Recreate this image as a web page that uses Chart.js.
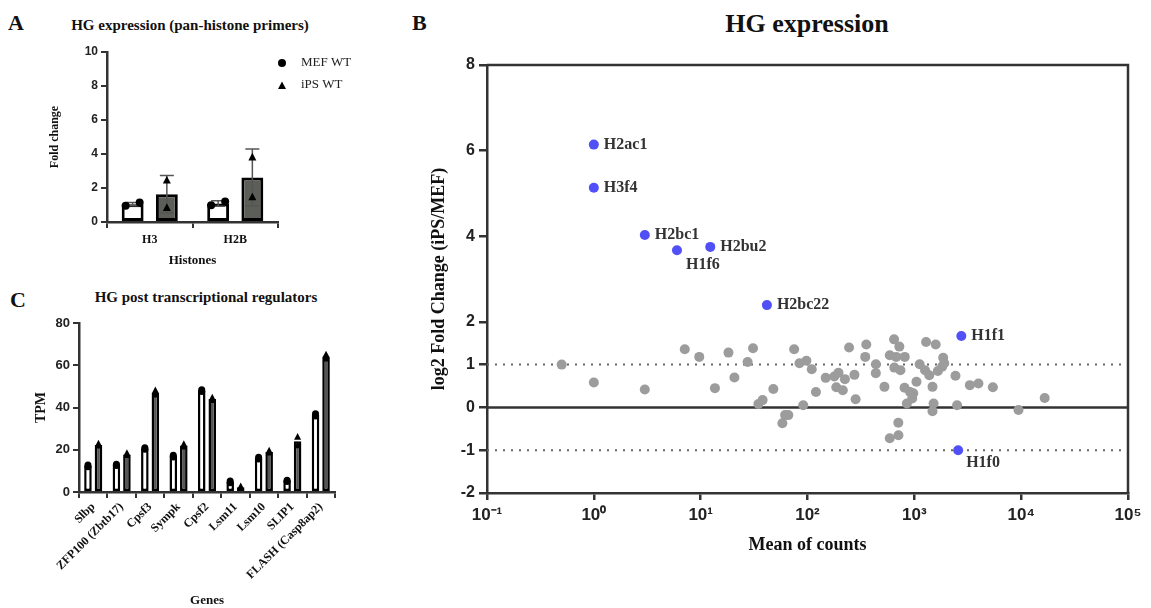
<!DOCTYPE html>
<html>
<head>
<meta charset="utf-8">
<script src="https://cdn.jsdelivr.net/npm/chart.js@4.4.1/dist/chart.umd.min.js"></script>
<style>
html, body { margin: 0; padding: 0; background: #fff; }
body { width: 1151px; height: 608px; position: relative; overflow: hidden; }
canvas { position: absolute; }
.txt { position: absolute; font-family: "Liberation Serif", "Times New Roman", serif; font-weight: bold; color: #111; white-space: nowrap; line-height: 1; }
</style>
</head>
<body>
<div class="txt" style="left:8px;top:12px;font-size:22px">A</div>
<div class="txt" style="left:40px;width:300px;top:18px;font-size:15px;text-align:center">HG expression (pan-histone primers)</div>
<div class="txt" style="left:412px;top:12px;font-size:22px">B</div>
<div class="txt" style="left:607px;width:400px;top:11px;font-size:26px;text-align:center">HG expression</div>
<div class="txt" style="left:10px;top:289px;font-size:22px">C</div>
<div class="txt" style="left:56px;width:300px;top:290px;font-size:15px;text-align:center">HG post transcriptional regulators</div>

<canvas id="chartA" width="390" height="275" style="left:0;top:0"></canvas>
<canvas id="chartB" width="751" height="608" style="left:400px;top:0"></canvas>
<canvas id="chartC" width="390" height="328" style="left:0;top:280px"></canvas>

<script>
// ---------- Panel A: pan-histone qPCR ----------
var histones = ['H3', 'H2B'];
var mefFold = [1.05, 1.09];
var ipsFold = [1.63, 2.62];
var mefFoldSd = [0.09, 0.16];
var ipsFoldSd = [1.1, 1.68];
var mefFoldReps = [[0.95, 1.15], [0.98, 1.21]];
var ipsFoldReps = [[2.44, 0.83], [3.8, 1.45]];

// ---------- Panel B: MA plot ----------
var geneCounts = [0.5, 1.0, 3.0, 7.1, 9.7, 18.2, 13.6, 20.7, 27.5, 30.9,
    34.7, 38, 47.9, 58.2, 61.7, 66.1, 75, 84.1, 97.7, 109.6,
    91.2, 120, 148, 178, 195, 224, 186, 214, 245, 275,
    282, 347, 355, 437, 436, 525, 589, 646, 724, 676,
    813, 650, 741, 810, 912, 977, 851, 955, 1047, 708,
    710, 589, 1122, 1288, 1585, 1259, 1380, 1479, 1660, 1862,
    1905, 1820, 1514, 1479, 2427, 2512, 3311, 3981, 5433, 9441, 16600];
var geneLfc = [1.0, 0.58, 0.42, 1.36, 1.18, 1.28, 0.45, 0.70, 1.06, 1.38,
    0.08, 0.17, 0.43, -0.37, -0.18, -0.18, 1.36, 1.03, 1.09, 0.89,
    0.05, 0.36, 0.69, 0.72, 0.81, 0.66, 0.47, 0.40, 1.40, 0.76,
    0.19, 1.18, 1.47, 1.01, 0.80, 0.48, 1.22, 1.59, 1.42, 1.18,
    1.18, 0.93, 0.87, 0.46, 0.36, 0.33, 0.09, 0.21, 0.60, -0.36,
    -0.65, -0.72, 1.01, 1.53, 1.47, 0.87, 0.75, 0.48, 0.85, 1.16,
    1.03, 0.95, 0.09, -0.09, 0.74, 0.05, 0.52, 0.56, 0.47, -0.06, 0.22];
var hitNames = ['H2ac1', 'H3f4', 'H2bc1', 'H1f6', 'H2bu2', 'H2bc22', 'H1f1', 'H1f0'];
var hitCounts = [1.0, 1.0, 3.0, 6.0, 12.3, 41.7, 2754, 2570];
var hitLfc = [6.14, 5.13, 4.03, 3.67, 3.75, 2.39, 1.67, -1.0];
var countTicks = [0.1, 1, 10, 100, 1000, 10000, 100000];
var countTickLabels = ['10⁻¹', '10⁰', '10¹', '10²', '10³', '10⁴', '10⁵'];
var lfcTicks = [-2, -1, 0, 1, 2, 4, 6, 8];

// ---------- Panel C: post-transcriptional regulators ----------
var regGenes = ['Slbp', 'ZFP100 (Zbtb17)', 'Cpsf3', 'Sympk', 'Cpsf2', 'Lsm11', 'Lsm10', 'SLIP1', 'FLASH (Casp8ap2)'];
var mefTpm = [12.4, 12.8, 20.6, 17.0, 48.0, 4.8, 16.0, 5.3, 36.5];
var ipsTpm = [22.3, 17.8, 47.0, 22.0, 44.0, 2.3, 19.0, 24.0, 64.0];
var mefTpmReps = [[12.0, 12.8], [12.5, 13.1], [20.2, 21.0], [16.6, 17.4], [47.6, 48.4], [4.4, 5.2], [15.6, 16.4], [5.0, 5.6], [36.0, 37.0]];
var ipsTpmReps = [[21.8, 22.8], [17.3, 18.3], [46.0, 48.0], [21.4, 22.6], [43.4, 44.6], [2.0, 2.6], [18.5, 19.5], [22.0, 26.0], [63.0, 65.0]];


var SANS = "'Liberation Sans', Arial, sans-serif";
var SERIF = "'Liberation Serif', 'Times New Roman', serif";
var AXIS = '#333';

function marker(ctx, shape, x, y, r) {
    ctx.beginPath();
    if (shape === 'triangle') {
        ctx.moveTo(x, y - r * 1.15);
        ctx.lineTo(x + r, y + r * 0.75);
        ctx.lineTo(x - r, y + r * 0.75);
        ctx.closePath();
    } else {
        ctx.arc(x, y, r, 0, Math.PI * 2);
    }
    ctx.fill();
}

// replicate dots + error bars on top of the bars
function replicatePlugin(groups) {
    return {
        id: 'replicates',
        afterDatasetsDraw: function (chart) {
            var ctx = chart.ctx, ys = chart.scales.y;
            ctx.save();
            groups.forEach(function (g) {
                var meta = chart.getDatasetMeta(g.dataset);
                meta.data.forEach(function (bar, i) {
                    if (g.sd) {
                        var mean = g.mean[i];
                        var top = ys.getPixelForValue(mean + g.sd[i]);
                        var bot = ys.getPixelForValue(mean - g.sd[i]);
                        ctx.strokeStyle = '#555';
                        ctx.lineWidth = 1.5;
                        ctx.beginPath();
                        ctx.moveTo(bar.x, top); ctx.lineTo(bar.x, bot);
                        ctx.moveTo(bar.x - 7, top); ctx.lineTo(bar.x + 7, top);
                        ctx.moveTo(bar.x - 7, bot); ctx.lineTo(bar.x + 7, bot);
                        ctx.stroke();
                    }
                    ctx.fillStyle = '#000';
                    g.reps[i].forEach(function (v, k) {
                        var dx = g.jitter ? g.jitter[k] : 0;
                        marker(ctx, g.shape, bar.x + dx, ys.getPixelForValue(v), g.r);
                    });
                });
            });
            ctx.restore();
        }
    };
}

function yAxis(min, max, step, width, title, titlePad, tickSize) {
    return {
        min: min, max: max,
        ticks: { stepSize: step, color: '#222', padding: 3, font: { family: SANS, weight: 'bold', size: tickSize } },
        grid: { drawOnChartArea: false, color: AXIS, lineWidth: 2, tickLength: 6 },
        border: { color: AXIS, width: 2.5 },
        title: { display: true, text: title, color: '#111', padding: { top: titlePad }, font: { family: SERIF, weight: 'bold', size: 12 } },
        afterFit: function (s) { s.width = width; }
    };
}


// ---------- Panel A ----------
var legendA = {
    id: 'legendA',
    afterDraw: function (chart) {
        var ctx = chart.ctx;
        ctx.save();
        ctx.fillStyle = '#000';
        marker(ctx, 'circle', 282, 63, 4);
        marker(ctx, 'triangle', 282, 86, 4);
        ctx.fillStyle = '#222';
        ctx.font = '13px ' + SERIF;
        ctx.textBaseline = 'middle';
        ctx.fillText('MEF WT', 301, 63);
        ctx.fillText('iPS WT', 301, 85);
        ctx.restore();
    }
};

new Chart(document.getElementById('chartA'), {
    type: 'bar',
    data: {
        labels: histones,
        datasets: [{
            label: 'MEF WT',
            data: mefFold,
            backgroundColor: '#fff',
            borderColor: '#000',
            borderWidth: 3,
            borderSkipped: false
        }, {
            label: 'iPS WT',
            data: ipsFold,
            backgroundColor: '#5c5e58',
            borderColor: '#000',
            borderWidth: 3,
            borderSkipped: false
        }]
    },
    options: {
        responsive: false,
        animation: false,
        events: [],
        layout: { padding: { top: 52, right: 112, left: 0, bottom: 0 } },
        datasets: { bar: { categoryPercentage: 0.8, barPercentage: 0.64 } },
        plugins: { legend: { display: false }, tooltip: { enabled: false } },
        scales: {
            x: {
                ticks: { color: '#111', padding: 5, font: { family: SERIF, weight: 'bold', size: 12 } },
                grid: { drawOnChartArea: false, color: AXIS, lineWidth: 2, tickLength: 6 },
                border: { color: AXIS, width: 2.5 },
                title: { display: true, text: 'Histones', color: '#111', padding: { bottom: 7 }, font: { family: SERIF, weight: 'bold', size: 13 } },
                afterFit: function (s) { s.height = 53; }
            },
            y: yAxis(0, 10, 2, 107, 'Fold change', 48, 12)
        }
    },
    plugins: [replicatePlugin([
        { dataset: 0, mean: mefFold, sd: mefFoldSd, reps: mefFoldReps, shape: 'circle', r: 4, jitter: [-7, 7] },
        { dataset: 1, mean: ipsFold, sd: ipsFoldSd, reps: ipsFoldReps, shape: 'triangle', r: 4 }
    ]), legendA]
});


// ---------- Panel B ----------
var genePts = geneCounts.map(function (c, i) { return { x: c, y: geneLfc[i] }; });
var hitPts = hitCounts.map(function (c, i) { return { x: c, y: hitLfc[i] }; });
function hLine(y) { return [{ x: countTicks[0], y: y }, { x: countTicks[countTicks.length - 1], y: y }]; }

var hitLabelOffset = { 'H1f6': [9, 15], 'H1f0': [8, 13] };

var boxAndLabels = {
    id: 'boxAndLabels',
    afterDatasetsDraw: function (chart) {
        var ctx = chart.ctx, a = chart.chartArea;
        ctx.save();
        // top / right frame
        ctx.strokeStyle = AXIS;
        ctx.lineWidth = 2.5;
        ctx.beginPath();
        ctx.moveTo(a.left, a.top);
        ctx.lineTo(a.right, a.top);
        ctx.lineTo(a.right, a.bottom);
        ctx.stroke();
        // hit gene names
        ctx.fillStyle = '#333';
        ctx.font = 'bold 16px ' + SERIF;
        ctx.textBaseline = 'middle';
        chart.getDatasetMeta(0).data.forEach(function (pt, i) {
            var off = hitLabelOffset[hitNames[i]] || [10, 0];
            ctx.fillText(hitNames[i], pt.x + off[0], pt.y + off[1]);
        });
        ctx.restore();
    }
};

new Chart(document.getElementById('chartB'), {
    type: 'scatter',
    data: {
        datasets: [{
            label: 'hits',
            data: hitPts,
            backgroundColor: '#5050f6',
            pointRadius: 5,
            borderWidth: 0
        }, {
            label: 'genes',
            data: genePts,
            backgroundColor: '#9c9c9c',
            pointRadius: 5,
            borderWidth: 0
        }, {
            label: 'zero',
            data: hLine(0),
            showLine: true,
            borderColor: AXIS,
            borderWidth: 2.5,
            pointRadius: 0
        }, {
            label: 'up',
            data: hLine(1),
            showLine: true,
            borderColor: '#666',
            borderWidth: 2,
            borderDash: [2, 6],
            pointRadius: 0
        }, {
            label: 'down',
            data: hLine(-1),
            showLine: true,
            borderColor: '#666',
            borderWidth: 2,
            borderDash: [2, 6],
            pointRadius: 0
        }]
    },
    options: {
        responsive: false,
        animation: false,
        events: [],
        layout: { padding: { top: 65, right: 23, left: 0, bottom: 0 } },
        plugins: { legend: { display: false }, tooltip: { enabled: false } },
        scales: {
            x: {
                type: 'logarithmic',
                min: 0.1, max: 100000,
                afterBuildTicks: function (s) { s.ticks = countTicks.map(function (v) { return { value: v, major: true }; }); },
                ticks: {
                    autoSkip: false, maxRotation: 0, color: '#222', padding: 5,
                    font: { family: SANS, weight: 'bold', size: 17 },
                    callback: function (v) { return countTickLabels[countTicks.indexOf(v)]; }
                },
                grid: { drawOnChartArea: false, color: AXIS, lineWidth: 2.5, tickLength: 7 },
                border: { color: AXIS, width: 2.5 },
                title: { display: true, text: 'Mean of counts', color: '#111', padding: { bottom: 52 }, font: { family: SERIF, weight: 'bold', size: 18 } },
                afterFit: function (s) { s.height = 115; }
            },
            y: {
                min: -2, max: 8,
                afterBuildTicks: function (s) { s.ticks = lfcTicks.map(function (v) { return { value: v }; }); },
                ticks: { autoSkip: false, color: '#222', padding: 4, font: { family: SANS, weight: 'bold', size: 16 } },
                grid: { drawOnChartArea: false, color: AXIS, lineWidth: 2.5, tickLength: 8 },
                border: { color: AXIS, width: 2.5 },
                title: { display: true, text: 'log2 Fold Change (iPS/MEF)', color: '#111', padding: { top: 29 }, font: { family: SERIF, weight: 'bold', size: 18 } },
                afterFit: function (s) { s.width = 87; }
            }
        }
    },
    plugins: [boxAndLabels]
});


// ---------- Panel C ----------
new Chart(document.getElementById('chartC'), {
    type: 'bar',
    data: {
        labels: regGenes,
        datasets: [{
            label: 'MEF WT',
            data: mefTpm,
            backgroundColor: '#fff',
            borderColor: '#000',
            borderWidth: 2.5,
            borderSkipped: false
        }, {
            label: 'iPS WT',
            data: ipsTpm,
            backgroundColor: '#555',
            borderColor: '#000',
            borderWidth: 2.5,
            borderSkipped: false
        }]
    },
    options: {
        responsive: false,
        animation: false,
        events: [],
        layout: { padding: { top: 43, right: 55, left: 0, bottom: 0 } },
        datasets: { bar: { categoryPercentage: 0.74, barPercentage: 0.72 } },
        plugins: { legend: { display: false }, tooltip: { enabled: false } },
        scales: {
            x: {
                ticks: { color: '#111', padding: 2, autoSkip: false, minRotation: 45, maxRotation: 45, font: { family: SERIF, weight: 'bold', size: 12 } },
                grid: { drawOnChartArea: false, color: AXIS, lineWidth: 2, tickLength: 6 },
                border: { color: AXIS, width: 2.5 },
                title: { display: true, text: 'Genes', color: '#111', padding: { bottom: 0 }, font: { family: SERIF, weight: 'bold', size: 13 } },
                afterFit: function (s) { s.height = 116; }
            },
            y: (function () {
                var y = yAxis(0, 80, 20, 79, 'TPM', 33, 13);
                y.title.font.size = 14;
                return y;
            })()
        }
    },
    plugins: [replicatePlugin([
        { dataset: 0, reps: mefTpmReps, shape: 'circle', r: 3.5 },
        { dataset: 1, reps: ipsTpmReps, shape: 'triangle', r: 3.5 }
    ])]
});
</script>
</body>
</html>
